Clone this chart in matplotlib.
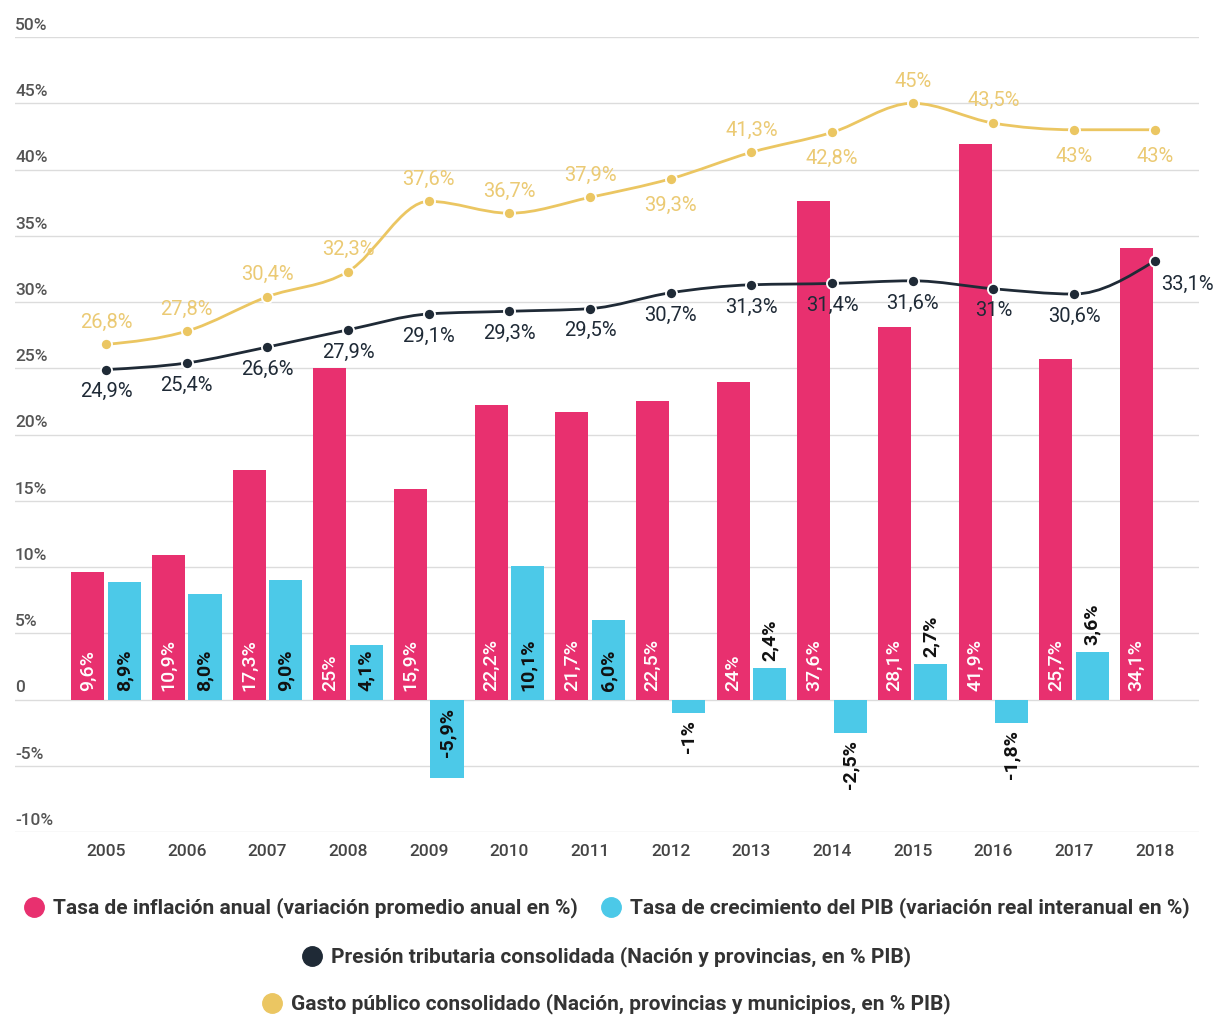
import numpy as np
import matplotlib.pyplot as plt
from matplotlib.path import Path
from matplotlib.patches import PathPatch
from matplotlib.lines import Line2D

plt.rcParams['font.family'] = ['Roboto', 'DejaVu Sans']

# datos
years = ['2005', '2006', '2007', '2008', '2009', '2010', '2011',
         '2012', '2013', '2014', '2015', '2016', '2017', '2018']
inflacion = [9.6, 10.9, 17.3, 25, 15.9, 22.2, 21.7, 22.5, 24, 37.6, 28.1, 41.9, 25.7, 34.1]
pib = [8.9, 8.0, 9.0, 4.1, -5.9, 10.1, 6.0, -1, 2.4, -2.5, 2.7, -1.8, 3.6, np.nan]
pib_labels = ['8,9%', '8,0%', '9,0%', '4,1%', '-5,9%', '10,1%', '6,0%',
              '-1%', '2,4%', '-2,5%', '2,7%', '-1,8%', '3,6%', '']
presion = [24.9, 25.4, 26.6, 27.9, 29.1, 29.3, 29.5, 30.7, 31.3, 31.4, 31.6, 31, 30.6, 33.1]
gasto = [26.8, 27.8, 30.4, 32.3, 37.6, 36.7, 37.9, 39.3, 41.3, 42.8, 45, 43.5, 43, 43]
ytick_vals = [-10, -5, 0, 5, 10, 15, 20, 25, 30, 35, 40, 45, 50]
ytick_labels = ['-10%', '-5%', '0', '5%', '10%', '15%', '20%', '25%',
                '30%', '35%', '40%', '45%', '50%']

PINK = '#E8306F'
BLUE = '#4CC9E8'
NAVY = '#1F2A36'
GOLD = '#EBC662'
GOLD_TXT = '#EBCA74'
GRID = '#DCDCDC'


def fmt(v):
    s = f'{v:.1f}'.replace('.', ',')
    if s.endswith(',0'):
        s = s[:-2]
    return s + '%'


def monotone_path(xs, ys):
    # curva monotona (tipo d3 curveMonotoneX) con beziers cubicos
    xs = np.asarray(xs, float)
    ys = np.asarray(ys, float)
    n = len(xs)
    h = np.diff(xs)
    s = np.diff(ys) / h
    t = np.zeros(n)
    for i in range(1, n - 1):
        p = (s[i - 1] * h[i] + s[i] * h[i - 1]) / (h[i - 1] + h[i])
        t[i] = (np.sign(s[i - 1]) + np.sign(s[i])) * min(abs(s[i - 1]), abs(s[i]), 0.5 * abs(p))
    t[0] = (3 * s[0] - t[1]) / 2
    t[-1] = (3 * s[-1] - t[-2]) / 2
    verts = [(xs[0], ys[0])]
    codes = [Path.MOVETO]
    for i in range(n - 1):
        dx = h[i] / 3
        verts += [(xs[i] + dx, ys[i] + dx * t[i]),
                  (xs[i + 1] - dx, ys[i + 1] - dx * t[i + 1]),
                  (xs[i + 1], ys[i + 1])]
        codes += [Path.CURVE4] * 3
    return Path(verts, codes)


fig = plt.figure(figsize=(12.18, 10.15), dpi=100)
ax = fig.add_axes([15 / 1218, 1 - 832 / 1015, 1184 / 1218, 795 / 1015])

x = np.arange(len(years))
w = 0.41
off = 0.226
ax.bar(x - off, inflacion, w, color=PINK, zorder=2)
ax.bar(x + off, pib, w, color=BLUE, zorder=2)

ax.set_xlim(-1.13, 13.55)
ax.set_ylim(-10, 50)
for sp in ax.spines.values():
    sp.set_visible(False)
ax.set_yticks(ytick_vals)
ax.yaxis.grid(True, color=GRID, lw=1)
ax.set_axisbelow(True)
ax.tick_params(axis='y', length=0, labelleft=False)
ax.set_xticks(x, years)
ax.tick_params(axis='x', length=0, pad=9, labelsize=12.5, labelcolor='#444444')
for t in ax.get_xticklabels():
    t.set_fontweight('medium')

for v, lab in zip(ytick_vals, ytick_labels):
    ax.annotate(lab, (0, v), xycoords=('axes fraction', 'data'), xytext=(0, 3),
                textcoords='offset points', ha='left', va='bottom',
                fontsize=12.5, color='#555555', fontweight='medium')

# etiquetas de barras
for xi, v in zip(x, inflacion):
    ax.annotate(fmt(v), (xi - off, 0), xytext=(0, 6), textcoords='offset points',
                rotation=90, ha='center', va='bottom', color='white',
                fontsize=14, fontweight='medium')

for xi, v, lab in zip(x, pib, pib_labels):
    if np.isnan(v):
        continue
    if v >= 4:
        ax.annotate(lab, (xi + off, 0), xytext=(0, 6), textcoords='offset points',
                    rotation=90, ha='center', va='bottom', color='#111111',
                    fontsize=14, fontweight='bold')
    elif v > 0:
        ax.annotate(lab, (xi + off, v), xytext=(0, 5), textcoords='offset points',
                    rotation=90, ha='center', va='bottom', color='#111111',
                    fontsize=14, fontweight='bold')
    elif v <= -5:
        ax.annotate(lab, (xi + off, 0), xytext=(0, -6), textcoords='offset points',
                    rotation=90, ha='center', va='top', color='#111111',
                    fontsize=14, fontweight='bold')
    else:
        ax.annotate(lab, (xi + off, v), xytext=(0, -5), textcoords='offset points',
                    rotation=90, ha='center', va='top', color='#111111',
                    fontsize=14, fontweight='bold')

# lineas
ax.add_patch(PathPatch(monotone_path(x, gasto), fill=False, ec=GOLD, lw=2, zorder=3))
ax.plot(x, gasto, 'o', ms=8, mfc=GOLD, mec='white', mew=1.3, zorder=4)
ax.add_patch(PathPatch(monotone_path(x, presion), fill=False, ec=NAVY, lw=2, zorder=3))
ax.plot(x, presion, 'o', ms=8, mfc=NAVY, mec='white', mew=1.3, zorder=4)

gasto_pos = ['up'] * 7 + ['down', 'up', 'down', 'up', 'up', 'down', 'down']
for xi, v, pos in zip(x, gasto, gasto_pos):
    dy = 16 if pos == 'up' else -19
    ax.annotate(fmt(v), (xi, v), xytext=(0, dy), textcoords='offset points',
                ha='center', va='center', color=GOLD_TXT, fontsize=14.5)

for xi, v in zip(x, presion):
    if xi == len(x) - 1:
        ax.annotate(fmt(v), (xi, v), xytext=(5, -17), textcoords='offset points',
                    ha='left', va='center', color=NAVY, fontsize=14.5)
    else:
        ax.annotate(fmt(v), (xi, v), xytext=(0, -16), textcoords='offset points',
                    ha='center', va='center', color=NAVY, fontsize=14.5, zorder=5)

# leyenda
leg_font = {'family': ['Roboto', 'DejaVu Sans'], 'size': 15, 'weight': 'bold'}


def dot(c):
    return Line2D([], [], marker='o', ls='', ms=14, mfc=c, mec=c)


legs = [
    ([dot(PINK), dot(BLUE)],
     ['Tasa de inflación anual (variación promedio anual en %)',
      'Tasa de crecimiento del PIB (variación real interanual en %)'], 1 - 908 / 1015),
    ([dot(NAVY)], ['Presión tributaria consolidada (Nación y provincias, en % PIB)'], 1 - 957 / 1015),
    ([dot(GOLD)], ['Gasto público consolidado (Nación, provincias y municipios, en % PIB)'], 1 - 1004 / 1015),
]
for handles, labels, yy in legs:
    lg = fig.legend(handles, labels, loc='center', bbox_to_anchor=(0.497, yy),
                    ncol=len(handles), frameon=False, prop=leg_font,
                    handletextpad=0.3, columnspacing=1.0, handlelength=1.2,
                    borderaxespad=0, borderpad=0)
    for t in lg.get_texts():
        t.set_color('#333333')

fig.savefig('out.png', dpi=100, facecolor='white')
